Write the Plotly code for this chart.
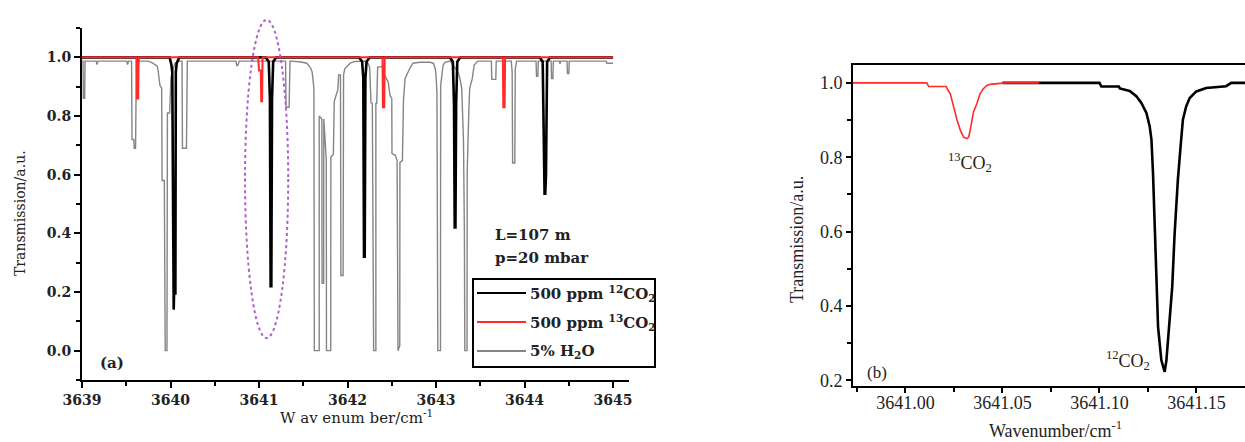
import plotly.graph_objects as go

# ---------------- panel (a): 3639-3645 cm-1 survey ----------------
h2o_x = [3639.000, 3639.012, 3639.015, 3639.030, 3639.034, 3639.160, 3639.170, 3639.180,
         3639.505, 3639.515, 3639.525, 3639.560, 3639.565, 3639.585, 3639.590, 3639.605,
         3639.615, 3639.750, 3639.800, 3639.850, 3639.860, 3639.870, 3639.880, 3639.900,
         3639.905, 3639.930, 3639.940, 3639.960, 3639.965, 3639.990, 3640.005, 3640.030,
         3640.050, 3640.100, 3640.130, 3640.135, 3640.180, 3640.190, 3640.740, 3640.750,
         3640.765, 3640.775, 3641.300, 3641.305, 3641.340, 3641.350, 3641.460, 3641.540,
         3641.580, 3641.600, 3641.610, 3641.620, 3641.625, 3641.680, 3641.680, 3641.710,
         3641.712, 3641.730, 3641.732, 3641.760, 3641.762, 3641.810, 3641.812, 3641.840,
         3641.850, 3641.890, 3641.900, 3641.920, 3641.925, 3641.950, 3641.955, 3641.970,
         3642.030, 3642.080, 3642.200, 3642.230, 3642.250, 3642.265, 3642.280, 3642.282,
         3642.290, 3642.295, 3642.320, 3642.320, 3642.330, 3642.332, 3642.340, 3642.390,
         3642.400, 3642.420, 3642.460, 3642.480, 3642.500, 3642.502, 3642.540, 3642.560,
         3642.562, 3642.570, 3642.590, 3642.592, 3642.620, 3642.630, 3642.632, 3642.650,
         3642.680, 3642.710, 3642.740, 3642.820, 3642.930, 3642.970, 3642.990, 3643.000,
         3643.010, 3643.015, 3643.020, 3643.050, 3643.052, 3643.070, 3643.080, 3643.100,
         3643.160, 3643.250, 3643.270, 3643.290, 3643.310, 3643.320, 3643.325, 3643.350,
         3643.352, 3643.370, 3643.380, 3643.410, 3643.430, 3643.470, 3643.625, 3643.630,
         3643.675, 3643.680, 3643.850, 3643.860, 3643.865, 3643.890, 3643.895, 3643.910,
         3644.130, 3644.135, 3644.150, 3644.155, 3644.300, 3644.305, 3644.320, 3644.325,
         3644.395, 3644.400, 3644.410, 3644.480, 3644.485, 3644.500, 3644.505, 3644.920,
         3644.930, 3645.000]
h2o_y = [0.987, 0.987, 0.860, 0.860, 0.987, 0.987, 0.975, 0.987,
         0.987, 0.975, 0.987, 0.987, 0.720, 0.720, 0.690, 0.690,
         0.987, 0.987, 0.980, 0.970, 0.955, 0.930, 0.905, 0.895,
         0.580, 0.580, 0.000, 0.000, 0.810, 0.810, 0.930, 0.960,
         0.980, 0.987, 0.987, 0.690, 0.690, 0.987, 0.987, 0.970,
         0.975, 0.987, 0.987, 0.830, 0.830, 0.987, 0.985, 0.980,
         0.965, 0.950, 0.915, 0.895, 0.000, 0.000, 0.800, 0.790,
         0.230, 0.230, 0.790, 0.650, 0.000, 0.000, 0.660, 0.670,
         0.850, 0.890, 0.940, 0.940, 0.256, 0.256, 0.940, 0.962,
         0.980, 0.986, 0.987, 0.980, 0.966, 0.846, 0.843, 0.734,
         0.727, 0.000, 0.000, 0.843, 0.843, 0.962, 0.966, 0.969,
         0.962, 0.939, 0.915, 0.870, 0.860, 0.672, 0.666, 0.648,
         0.017, 0.000, 0.017, 0.642, 0.648, 0.812, 0.853, 0.928,
         0.949, 0.966, 0.980, 0.983, 0.983, 0.980, 0.962, 0.939,
         0.880, 0.075, 0.000, 0.000, 0.904, 0.949, 0.973, 0.983,
         0.987, 0.949, 0.928, 0.894, 0.717, 0.416, 0.000, 0.000,
         0.608, 0.812, 0.894, 0.928, 0.973, 0.987, 0.987, 0.925,
         0.925, 0.987, 0.987, 0.950, 0.640, 0.640, 0.960, 0.987,
         0.987, 0.935, 0.935, 0.987, 0.987, 0.928, 0.928, 0.987,
         0.987, 0.978, 0.987, 0.987, 0.945, 0.945, 0.987, 0.987,
         0.980, 0.980]

co2_12_x = [3639.000, 3639.625, 3639.630, 3639.635,
            3639.990, 3640.010, 3640.020, 3640.028, 3640.036, 3640.040, 3640.055, 3640.060, 3640.070, 3640.100,
            3641.075, 3641.110, 3641.123, 3641.131, 3641.139, 3641.147, 3641.160, 3641.195,
            3642.130, 3642.165, 3642.178, 3642.186, 3642.194, 3642.202, 3642.215, 3642.250,
            3643.155, 3643.190, 3643.203, 3643.211, 3643.219, 3643.227, 3643.240, 3643.275,
            3644.170, 3644.205, 3644.218, 3644.226, 3644.234, 3644.242, 3644.255, 3644.290,
            3645.000]
co2_12_y = [1.000, 1.000, 0.985, 1.000,
            1.000, 0.975, 0.950, 0.140, 0.140, 0.195, 0.195, 0.950, 0.980, 1.000,
            1.000, 0.985, 0.860, 0.220, 0.220, 0.860, 0.985, 1.000,
            1.000, 0.985, 0.930, 0.320, 0.320, 0.930, 0.985, 1.000,
            1.000, 0.985, 0.840, 0.420, 0.420, 0.840, 0.985, 1.000,
            1.000, 0.985, 0.600, 0.535, 0.535, 0.600, 0.985, 1.000,
            1.000]

co2_13_x = [3639.000, 3639.615, 3639.620, 3639.635, 3639.640,
            3640.990, 3641.000, 3641.020, 3641.025, 3641.035, 3641.040,
            3642.395, 3642.400, 3642.415, 3642.420,
            3643.755, 3643.760, 3643.775, 3643.780, 3645.000]
co2_13_y = [1.000, 1.000, 0.860, 0.860, 1.000,
            1.000, 0.955, 0.955, 0.850, 0.850, 1.000,
            1.000, 0.830, 0.830, 1.000,
            1.000, 0.830, 0.830, 1.000, 1.000]

# ---------------- panel (b): the 3641.0-3641.17 cm-1 pair ----------------
zoom_13_x = [3640.973, 3641.011, 3641.012, 3641.021, 3641.022, 3641.0231, 3641.024, 3641.0248,
             3641.0266, 3641.0283, 3641.0300, 3641.0317, 3641.0326, 3641.0334, 3641.0343,
             3641.0351, 3641.0368, 3641.0385, 3641.0402, 3641.0419, 3641.0437, 3641.0514, 3641.069]
zoom_13_y = [1.000, 1.000, 0.990, 0.990, 0.980, 0.971, 0.953, 0.935,
             0.900, 0.873, 0.854, 0.850, 0.854, 0.873, 0.900,
             0.922, 0.944, 0.971, 0.984, 0.993, 0.996, 1.000, 1.000]

zoom_12_x = [3641.050, 3641.100, 3641.101, 3641.110, 3641.1105, 3641.1156, 3641.119, 3641.1216,
             3641.1242, 3641.1259, 3641.1268, 3641.1276, 3641.1285, 3641.1294, 3641.1302,
             3641.1319, 3641.1336, 3641.1345, 3641.1358, 3641.1375, 3641.1387, 3641.1404,
             3641.1421, 3641.1430, 3641.1447, 3641.1465, 3641.1499, 3641.1550, 3641.1653,
             3641.1679, 3641.175]
zoom_12_y = [1.000, 1.000, 0.990, 0.990, 0.985, 0.978, 0.964, 0.946,
             0.919, 0.883, 0.847, 0.757, 0.613, 0.474, 0.344,
             0.254, 0.223, 0.254, 0.335, 0.452, 0.591, 0.739,
             0.847, 0.901, 0.937, 0.959, 0.977, 0.986, 0.991,
             1.000, 1.000]

# ---------------- ticks ----------------
a_xticks = [3639, 3640, 3641, 3642, 3643, 3644, 3645]
a_xlabels = ["3639", "3640", "3641", "3642", "3643", "3644", "3645"]
a_xminor = [3639.5, 3640.5, 3641.5, 3642.5, 3643.5, 3644.5]
a_yticks = [0.0, 0.2, 0.4, 0.6, 0.8, 1.0]
a_ylabels = ["0.0", "0.2", "0.4", "0.6", "0.8", "1.0"]
a_yminor = [-0.1, 0.1, 0.3, 0.5, 0.7, 0.9, 1.1]

b_xticks = [3641.00, 3641.05, 3641.10, 3641.15]
b_xlabels = ["3641.00", "3641.05", "3641.10", "3641.15"]
b_xminor = [3640.975, 3641.025, 3641.075, 3641.125]
b_yticks = [0.2, 0.4, 0.6, 0.8, 1.0]
b_ylabels = ["0.2", "0.4", "0.6", "0.8", "1.0"]
b_yminor = [0.3, 0.5, 0.7, 0.9]

C_BLACK = "#000000"
C_RED = "#ff2a2a"
C_GRAY = "#858585"
C_TEXT = "#222222"
SERIF_A = "DejaVu Serif"
SERIF_B = "Liberation Serif"

W, H = 1245, 442


def fx(px):
    return px / W


def fy(py):
    return 1 - py / H


fig = go.Figure()

fig.add_trace(go.Scatter(x=h2o_x, y=h2o_y, mode="lines", name="5% H2O",
                         line=dict(color=C_GRAY, width=1.4), xaxis="x", yaxis="y", showlegend=False))
fig.add_trace(go.Scatter(x=co2_12_x, y=co2_12_y, mode="lines", name="500 ppm 12CO2",
                         line=dict(color=C_BLACK, width=2.6), xaxis="x", yaxis="y", showlegend=False))
fig.add_trace(go.Scatter(x=co2_13_x, y=co2_13_y, mode="lines", name="500 ppm 13CO2",
                         line=dict(color=C_RED, width=2), xaxis="x", yaxis="y", showlegend=False))

fig.add_trace(go.Scatter(x=zoom_12_x, y=zoom_12_y, mode="lines", name="12CO2",
                         line=dict(color=C_BLACK, width=2.6), xaxis="x2", yaxis="y2", showlegend=False))
fig.add_trace(go.Scatter(x=zoom_13_x, y=zoom_13_y, mode="lines", name="13CO2",
                         line=dict(color=C_RED, width=1.6), xaxis="x2", yaxis="y2", showlegend=False))


def axis_style(vals, labels, minor_vals, family, size, weight="normal", ticklen=6, standoff=0):
    return dict(
        tickmode="array", tickvals=vals, ticktext=labels,
        showline=True, linecolor="black", linewidth=2,
        ticks="outside", ticklen=ticklen, tickwidth=2, tickcolor="black",
        minor=dict(tickmode="array", tickvals=minor_vals, ticks="outside",
                   ticklen=4, tickwidth=2, tickcolor="black", showgrid=False),
        showgrid=False, zeroline=False, automargin=False,
        ticklabelstandoff=standoff,
        tickfont=dict(family=family, size=size, color=C_TEXT, weight=weight),
    )


fig.update_layout(
    width=W, height=H,
    margin=dict(l=0, r=0, t=0, b=0, autoexpand=False),
    paper_bgcolor="white", plot_bgcolor="white",
    showlegend=False,
    xaxis=dict(domain=[fx(82), fx(629)], range=[3639, 3645.18], anchor="y",
               **axis_style(a_xticks, a_xlabels, a_xminor, SERIF_A, 14, "bold")),
    yaxis=dict(domain=[fy(380), fy(28)], range=[-0.1, 1.1], anchor="x",
               **axis_style(a_yticks, a_ylabels, a_yminor, SERIF_A, 14, "bold")),
    xaxis2=dict(domain=[fx(853), 1.0], range=[3640.973, 3641.175], anchor="y2", mirror=True,
                **axis_style(b_xticks, b_xlabels, b_xminor, SERIF_B, 18, ticklen=5, standoff=-6)),
    yaxis2=dict(domain=[fy(386), fy(65)], range=[0.185, 1.048], anchor="x2",
                **axis_style(b_yticks, b_ylabels, b_yminor, SERIF_B, 18, ticklen=5)),
)

shapes = [
    # dotted ring around the 3641.0-3641.2 cm-1 region
    dict(type="circle", xref="x domain", yref="y domain",
         x0=0.298, x1=0.377, y0=0.119, y1=1.023,
         line=dict(color="#b060cc", width=2, dash="dot")),
    # legend frame and samples
    dict(type="rect", xref="paper", yref="paper", x0=fx(473), x1=fx(655), y0=fy(367), y1=fy(279),
         line=dict(color="black", width=2), fillcolor="white", layer="above"),
    dict(type="line", xref="paper", yref="paper", x0=fx(477), x1=fx(526), y0=fy(293), y1=fy(293),
         line=dict(color=C_BLACK, width=2)),
    dict(type="line", xref="paper", yref="paper", x0=fx(477), x1=fx(526), y0=fy(322), y1=fy(322),
         line=dict(color=C_RED, width=2)),
    dict(type="line", xref="paper", yref="paper", x0=fx(477), x1=fx(526), y0=fy(351), y1=fy(351),
         line=dict(color=C_GRAY, width=2)),
]
fig.update_layout(shapes=shapes)


def note(text, px, py, size=14, xanchor="left", angle=0, family=SERIF_A, weight="normal"):
    return dict(text=text, xref="paper", yref="paper", x=fx(px), y=fy(py),
                xanchor=xanchor, yanchor="middle", showarrow=False, textangle=angle,
                font=dict(family=family, size=size, color=C_TEXT, weight=weight))


annotations = [
    note("Transmission/a.u.", 20, 213, 14, "center", -90),
    note("W av enum ber/cm<sup>-1</sup>", 356, 417, 15, "center"),
    note("(a)", 98, 363, 15, weight="bold"),
    note("L=107 m", 493, 235, 15, weight="bold"),
    note("p=20 mbar", 493, 258, 15, weight="bold"),
    note("500 ppm <sup>12</sup>CO<sub>2</sub>", 528, 293, 15, weight="bold"),
    note("500 ppm <sup>13</sup>CO<sub>2</sub>", 528, 322, 15, weight="bold"),
    note("5% H<sub>2</sub>O", 528, 351, 15, weight="bold"),
    note("Transmission/a.u.", 797, 240, 18, "center", -90, SERIF_B),
    note("Wavenumber/cm<sup>-1</sup>", 1055, 429, 18, "center", 0, SERIF_B),
    note("(b)", 865, 372, 17, family=SERIF_B),
    dict(text="<sup>13</sup>CO<sub>2</sub>", xref="x2", yref="y2", x=3641.0334, y=0.787,
         showarrow=False, font=dict(family=SERIF_B, size=18, color=C_TEXT)),
    dict(text="<sup>12</sup>CO<sub>2</sub>", xref="x2", yref="y2", x=3641.1146, y=0.254,
         showarrow=False, font=dict(family=SERIF_B, size=18, color=C_TEXT)),
]
fig.update_layout(annotations=annotations)

fig.write_html("out.html")
